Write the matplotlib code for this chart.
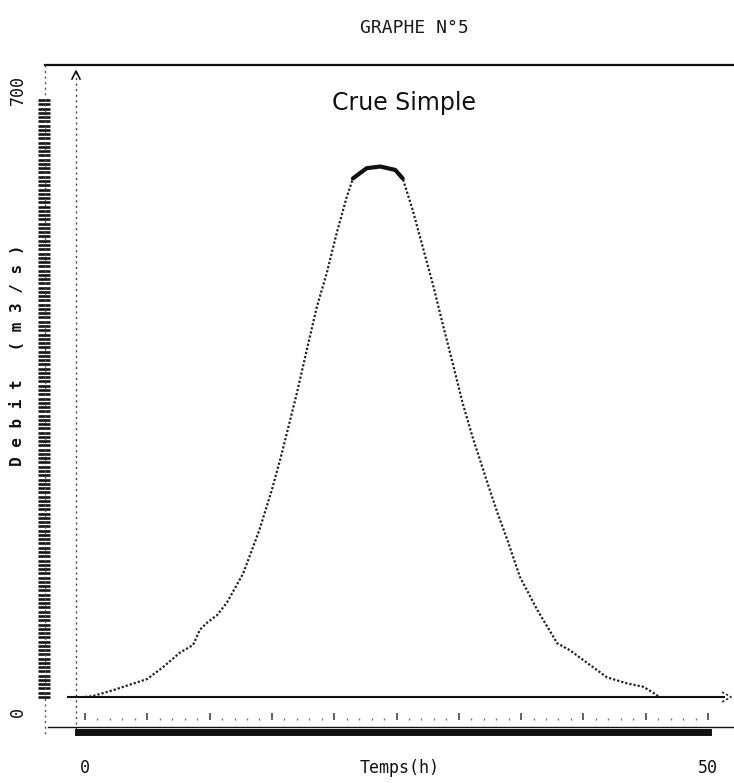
import numpy as np
import matplotlib
matplotlib.use("Agg")
import matplotlib.pyplot as plt
from matplotlib.lines import Line2D

# Hydrograph of a simple flood: time (h) and discharge (m3/s)
temps_h = [0.0, 0.6, 2.25, 4.98, 6.26, 7.62, 8.67, 9.23, 9.79, 10.6, 11.4, 12.7,
           14.0, 15.0, 15.8, 17.0, 17.8, 18.6, 19.4, 20.2, 21.0, 21.5, 22.6,
           23.7, 24.9, 25.5, 26.3, 27.1, 27.9, 28.7, 29.5, 30.3, 31.1, 32.3,
           33.1, 33.9, 34.9, 36.3, 37.9, 38.9, 40.3, 41.9, 43.5, 44.8, 45.5, 46.1]
debit_m3s = [0, 1, 8, 21, 35, 52, 61, 79, 87, 96, 111, 145,
             196, 243, 286, 356, 407, 457, 497, 544, 586, 608, 620,
             622, 618, 608, 571, 528, 485, 438, 392, 345, 305, 251,
             216, 184, 141, 102, 63, 55, 40, 23, 16, 12, 6, 0]

titre = "GRAPHE N°5"
sous_titre = "Crue Simple"
label_x = "Temps(h)"
label_y = "Debit (m3/s)"
x_ticklabels = ["0", "50"]
y_ticklabels = ["0", "700"]
t_min, t_max = 0, 50
q_min, q_max = 0, 700

W, H = 734, 783
fig = plt.figure(figsize=(W / 100, H / 100), dpi=100)
fig.patch.set_facecolor("white")


def fx(x):
    return x / W


def fy(y):
    return 1 - y / H


ink = "#111111"
mono = "DejaVu Sans Mono"

# main plotting area: t=0 at x=85px, t=50 at x=708px; Q=0 at y=697px, Q=700 at y=100px
px_per_h = (708 - 85) / 50
px_per_q = (697 - 100) / 700
ax = fig.add_axes([fx(76), fy(697), fx(725) - fx(76), fy(65) - fy(697)])
ax.set_xlim(t_min - (85 - 76) / px_per_h, t_min + (725 - 85) / px_per_h)
ax.set_ylim(q_min, q_min + (697 - 65) / px_per_q)
ax.axis("off")

ax.plot(temps_h, debit_m3s, color="#222222", lw=1.6, ls=(0, (1.0, 0.9)),
        solid_capstyle="butt", dash_capstyle="butt")
# dense print at the crest
crest = [i for i, q in enumerate(debit_m3s) if q >= 600]
ax.plot([temps_h[i] for i in crest], [debit_m3s[i] for i in crest],
        color=ink, lw=3.0, solid_capstyle="round", solid_joinstyle="round")

# ruler of dense ticks along the discharge scale
ruler = fig.add_axes([fx(38), fy(697), fx(50) - fx(38), fy(65) - fy(697)])
ruler.set_ylim(ax.get_ylim())
ruler.set_xlim(0, 1)
for s in ruler.spines.values():
    s.set_visible(False)
ruler.set_xticks([])
ruler.set_yticks(np.arange(q_min, q_max + 1, 5))
ruler.set_yticklabels([])
ruler.tick_params(axis="y", direction="in", length=12 * 0.72, width=1.9,
                  color="#151515", pad=0)
ruler.patch.set_alpha(0)

# tick row along the time axis
trow = fig.add_axes([fx(76), fy(720), fx(725) - fx(76), fy(700) - fy(720)])
trow.set_xlim(ax.get_xlim())
trow.set_ylim(0, 1)
for s in trow.spines.values():
    s.set_visible(False)
trow.set_yticks([])
trow.set_xticks(np.arange(t_min, t_max + 1, 5))
trow.set_xticks(np.arange(t_min, t_max + 1, 1), minor=True)
trow.set_xticklabels([])
trow.tick_params(axis="x", which="major", direction="in", length=7 * 0.72,
                 width=1.3, color="#555555")
trow.tick_params(axis="x", which="minor", direction="in", length=2.5 * 0.72,
                 width=1.0, color="#777777")
trow.patch.set_alpha(0)


def fline(x0, y0, x1, y1, **kw):
    fig.add_artist(Line2D([fx(x0), fx(x1)], [fy(y0), fy(y1)],
                          transform=fig.transFigure, **kw))


# frame lines of the printout
fline(45, 65, 734, 65, color=ink, lw=1.6)
fline(45, 65, 45, 735, color="#555555", lw=1.0, ls=(0, (1.5, 2.5)))
fline(76, 72, 76, 735, color="#444444", lw=1.0, ls=(0, (1.5, 2.5)))
fline(68, 697, 724, 697, color=ink, lw=1.5)
fline(48, 727, 734, 727, color=ink, lw=1.0)
fline(78, 732, 708, 732, color=ink, lw=5.0)
# arrow heads
fig.add_artist(Line2D([fx(72), fx(76), fx(80)], [fy(79), fy(71), fy(79)],
                      transform=fig.transFigure, color=ink, lw=1.2))
fig.add_artist(Line2D([fx(722), fx(731), fx(722)], [fy(692), fy(697), fy(702)],
                      transform=fig.transFigure, color="#333333", lw=1.2,
                      ls=(0, (1.5, 1.2))))

# texts
fig.text(fx(414), fy(28), titre, family=mono, fontsize=13, color="#1a1a1a",
         ha="center", va="center")
fig.text(fx(404), fy(103), sous_titre, family="DejaVu Sans", fontsize=17,
         color=ink, ha="center", va="center")
fig.text(fx(400), fy(768), label_x, family=mono, fontsize=12, color=ink,
         ha="center", va="center")
fig.text(fx(85), fy(768), x_ticklabels[0], family=mono, fontsize=12,
         color=ink, ha="center", va="center")
fig.text(fx(708), fy(768), x_ticklabels[1], family=mono, fontsize=12,
         color=ink, ha="center", va="center")
fig.text(fx(18), fy(712), y_ticklabels[0], family=mono, fontsize=12,
         color=ink, ha="center", va="center", rotation=90)
fig.text(fx(18), fy(90), y_ticklabels[1], family=mono, fontsize=12,
         color=ink, ha="center", va="center", rotation=90)
fig.text(fx(18), fy(355), " ".join(label_y), family=mono, fontsize=11.5,
         color=ink, ha="center", va="center", rotation=90, fontweight="bold")

fig.savefig("out.png", dpi=100, facecolor="white")
